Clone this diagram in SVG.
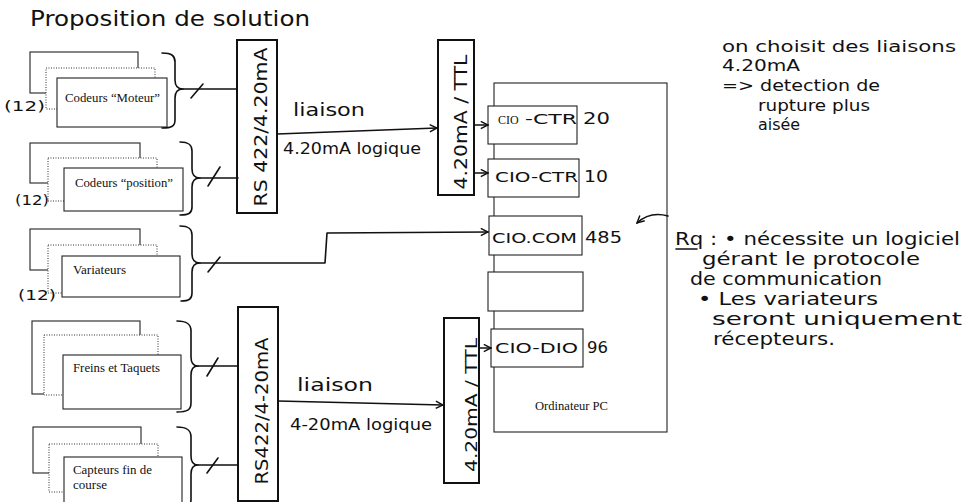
<svg xmlns="http://www.w3.org/2000/svg" width="964" height="502" viewBox="0 0 964 502">
<style>
.hw{font-family:"DejaVu Sans","Open Sans",sans-serif;fill:#111;}
.tm{font-family:"Liberation Serif","Times New Roman",serif;font-size:12px;fill:#111;}
.box{fill:#fff;stroke:#222;stroke-width:1.1;}
.dot{fill:#fff;stroke:#333;stroke-width:1;stroke-dasharray:1 1.5;}
.conv{fill:#fff;stroke:#111;stroke-width:2;}
.ln{fill:none;stroke:#111;stroke-width:1.6;stroke-linecap:round;stroke-linejoin:round;}
</style>
<defs>
<marker id="ah" viewBox="0 0 10 10" refX="9" refY="5" markerWidth="9" markerHeight="9" markerUnits="userSpaceOnUse" orient="auto">
<path d="M1,1 L9,5 L1,9" fill="none" stroke="#111" stroke-width="1.6"/>
</marker>
</defs>
<rect width="964" height="502" fill="#fff"/>

<text id="title" class="hw" x="30" y="26" font-size="21" textLength="280" lengthAdjust="spacingAndGlyphs">Proposition de solution</text>

<g id="codeurs-moteur">
<rect class="box" x="30" y="52" width="108" height="41"/>
<rect class="dot" x="46" y="68" width="109" height="41"/>
<rect class="box" x="57" y="78" width="110" height="49"/>
<text class="tm" x="65" y="102" textLength="95" lengthAdjust="spacingAndGlyphs">Codeurs “Moteur”</text>
<text class="hw" x="4" y="111" font-size="14" textLength="41" lengthAdjust="spacingAndGlyphs">(12)</text>
<path class="ln" d="M162,53 C172,53 175,56 175,62 L175,80 C175,86 178,89 183,89 C178,89 175,92 175,98 L175,120 C175,126 172,128 162,128"/>
</g>

<g id="codeurs-position">
<rect class="box" x="30" y="143" width="110" height="40"/>
<rect class="dot" x="48" y="158" width="109" height="43"/>
<rect class="box" x="64" y="168" width="119" height="43"/>
<text class="tm" x="75" y="187" textLength="98" lengthAdjust="spacingAndGlyphs">Codeurs “position”</text>
<text class="hw" x="15" y="205" font-size="14" textLength="34" lengthAdjust="spacingAndGlyphs">(12)</text>
<path class="ln" d="M180,142 C189,142 192,145 192,151 L192,169 C192,175 195,178 200,178 C195,178 192,181 192,187 L192,207 C192,213 189,215 180,215"/>
</g>

<g id="variateurs">
<rect class="box" x="30" y="229" width="110" height="41"/>
<rect class="dot" x="48" y="245" width="109" height="48"/>
<rect class="box" x="62" y="256" width="118" height="41"/>
<text class="tm" x="73" y="274" textLength="53" lengthAdjust="spacingAndGlyphs">Variateurs</text>
<text class="hw" x="18" y="300" font-size="14" textLength="38" lengthAdjust="spacingAndGlyphs">(12)</text>
<path class="ln" d="M180,226 C189,226 192,229 192,235 L192,254 C192,260 195,263 200,263 C195,263 192,266 192,272 L192,293 C192,299 189,301 181,301"/>
</g>

<g id="freins-taquets">
<rect class="box" x="32" y="321" width="108" height="73"/>
<rect class="dot" x="44" y="335" width="114" height="60"/>
<rect class="box" x="63" y="355" width="118" height="54"/>
<text class="tm" x="73" y="372" textLength="87" lengthAdjust="spacingAndGlyphs">Freins et Taquets</text>
<path class="ln" d="M177,321 C187,321 191,324 191,331 L191,357 C191,363 194,366 198,366 C194,366 191,369 191,375 L191,403 C191,410 187,412 177,412"/>
</g>

<g id="capteurs">
<rect class="box" x="33" y="427" width="108" height="46"/>
<rect class="dot" x="49" y="444" width="109" height="48"/>
<rect class="box" x="64" y="457" width="118" height="50"/>
<text class="tm" x="73" y="474" textLength="79" lengthAdjust="spacingAndGlyphs">Capteurs fin de</text>
<text class="tm" x="73" y="489" textLength="34" lengthAdjust="spacingAndGlyphs">course</text>
<path class="ln" d="M177,427 C187,427 191,430 191,437 L191,456 C191,462 194,465 198,465 C194,465 191,468 191,474 L191,500 C191,505 187,506 177,506"/>
</g>

<g id="conv-rs1">
<rect class="conv" x="237" y="40" width="40" height="173"/>
<text class="hw" transform="translate(267,127) rotate(-90)" text-anchor="middle" font-size="18" textLength="159" lengthAdjust="spacingAndGlyphs">RS 422/4.20mA</text>
</g>
<g id="conv-rs2">
<rect class="conv" x="238" y="307" width="40" height="194"/>
<text class="hw" transform="translate(268,411) rotate(-90)" text-anchor="middle" font-size="18" textLength="147" lengthAdjust="spacingAndGlyphs">RS422/4-20mA</text>
</g>
<g id="conv-ttl1">
<rect class="conv" x="438" y="40" width="36" height="155"/>
<text class="hw" transform="translate(467,122) rotate(-90)" text-anchor="middle" font-size="17" textLength="135" lengthAdjust="spacingAndGlyphs">4.20mA / TTL</text>
</g>
<g id="conv-ttl2">
<rect class="conv" x="444" y="318" width="35" height="165"/>
<text class="hw" transform="translate(477,405) rotate(-90)" text-anchor="middle" font-size="16" textLength="134" lengthAdjust="spacingAndGlyphs">4.20mA / TTL</text>
</g>

<g id="pc">
<rect class="box" x="494" y="83" width="173" height="349"/>
<text class="tm" x="535" y="410" textLength="73" lengthAdjust="spacingAndGlyphs">Ordinateur PC</text>
</g>
<g id="cio-ctr20">
<rect class="box" x="488" y="106" width="89" height="38"/>
<text class="tm" x="498" y="124">CIO</text>
<text class="hw" x="525" y="124" font-size="14" textLength="52" lengthAdjust="spacingAndGlyphs">-CTR</text>
<text class="hw" x="583" y="124" font-size="15" textLength="27" lengthAdjust="spacingAndGlyphs">20</text>
</g>
<g id="cio-ctr10">
<rect class="box" x="488" y="159" width="91" height="38"/>
<text class="hw" x="495" y="182" font-size="14" textLength="83" lengthAdjust="spacingAndGlyphs">CIO-CTR</text>
<text class="hw" x="584" y="182" font-size="15" textLength="24" lengthAdjust="spacingAndGlyphs">10</text>
</g>
<g id="cio-com">
<rect class="box" x="489" y="216" width="93" height="39"/>
<text class="hw" x="492" y="243" font-size="14" textLength="85" lengthAdjust="spacingAndGlyphs">CIO.COM</text>
<text class="hw" x="585" y="243" font-size="15" textLength="37" lengthAdjust="spacingAndGlyphs">485</text>
</g>
<g id="cio-blank">
<rect class="box" x="488" y="272" width="95" height="39"/>
</g>
<g id="cio-dio">
<rect class="box" x="491" y="329" width="92" height="38"/>
<text class="hw" x="495" y="353" font-size="14" textLength="83" lengthAdjust="spacingAndGlyphs">CIO-DIO</text>
<text class="hw" x="587" y="353" font-size="15" textLength="21" lengthAdjust="spacingAndGlyphs">96</text>
</g>

<g id="connectors">
<path class="ln" d="M183,89 L237,89"/>
<path class="ln" d="M191,98 L203,84"/>
<path class="ln" d="M200,178 L238,178"/>
<path class="ln" d="M208,186 L220,167"/>
<path class="ln" d="M200,263 L325,263 L327,233 L488,232" marker-end="url(#ah)"/>
<path class="ln" d="M208,272 L220,257"/>
<path class="ln" d="M198,366 L238,366"/>
<path class="ln" d="M207,376 L218,358"/>
<path class="ln" d="M198,465 L238,465"/>
<path class="ln" d="M207,473 L218,458"/>
<path class="ln" d="M277,134 L437,128" marker-end="url(#ah)"/>
<path class="ln" d="M278,401 L443,405" marker-end="url(#ah)"/>
<path class="ln" d="M474,125 L488,125" marker-end="url(#ah)"/>
<path class="ln" d="M474,173 L488,173" marker-end="url(#ah)"/>
<path class="ln" d="M479,348 L491,348" marker-end="url(#ah)"/>
<path class="ln" d="M668,216 Q650,211 637,223" marker-end="url(#ah)"/>
</g>

<g id="labels">
<text class="hw" x="293" y="116" font-size="17" textLength="72" lengthAdjust="spacingAndGlyphs">liaison</text>
<text class="hw" x="283" y="154" font-size="15" textLength="138" lengthAdjust="spacingAndGlyphs">4.20mA logique</text>
<text class="hw" x="297" y="391" font-size="17" textLength="76" lengthAdjust="spacingAndGlyphs">liaison</text>
<text class="hw" x="290" y="430" font-size="16" textLength="142" lengthAdjust="spacingAndGlyphs">4-20mA logique</text>
</g>

<g id="note-top" class="hw" font-size="16">
<text x="722" y="52" textLength="234" lengthAdjust="spacingAndGlyphs">on choisit des liaisons</text>
<text x="722" y="71" textLength="78" lengthAdjust="spacingAndGlyphs">4.20mA</text>
<text x="722" y="91" textLength="158" lengthAdjust="spacingAndGlyphs">=&gt; detection de</text>
<text x="758" y="111" textLength="112" lengthAdjust="spacingAndGlyphs">rupture plus</text>
<text x="758" y="130" textLength="42" lengthAdjust="spacingAndGlyphs">aisée</text>
</g>

<g id="note-rq" class="hw" font-size="17">
<text x="675" y="245" textLength="285" lengthAdjust="spacingAndGlyphs">Rq : • nécessite un logiciel</text>
<path class="ln" d="M676,249 L697,249" stroke-width="1.3"/>
<text x="702" y="265" textLength="218" lengthAdjust="spacingAndGlyphs">gérant le protocole</text>
<text x="690" y="285" textLength="192" lengthAdjust="spacingAndGlyphs">de communication</text>
<text x="698" y="305" textLength="180" lengthAdjust="spacingAndGlyphs">• Les variateurs</text>
<text x="712" y="325" textLength="250" lengthAdjust="spacingAndGlyphs">seront uniquement</text>
<text x="713" y="345" textLength="122" lengthAdjust="spacingAndGlyphs">récepteurs.</text>
</g>
</svg>
